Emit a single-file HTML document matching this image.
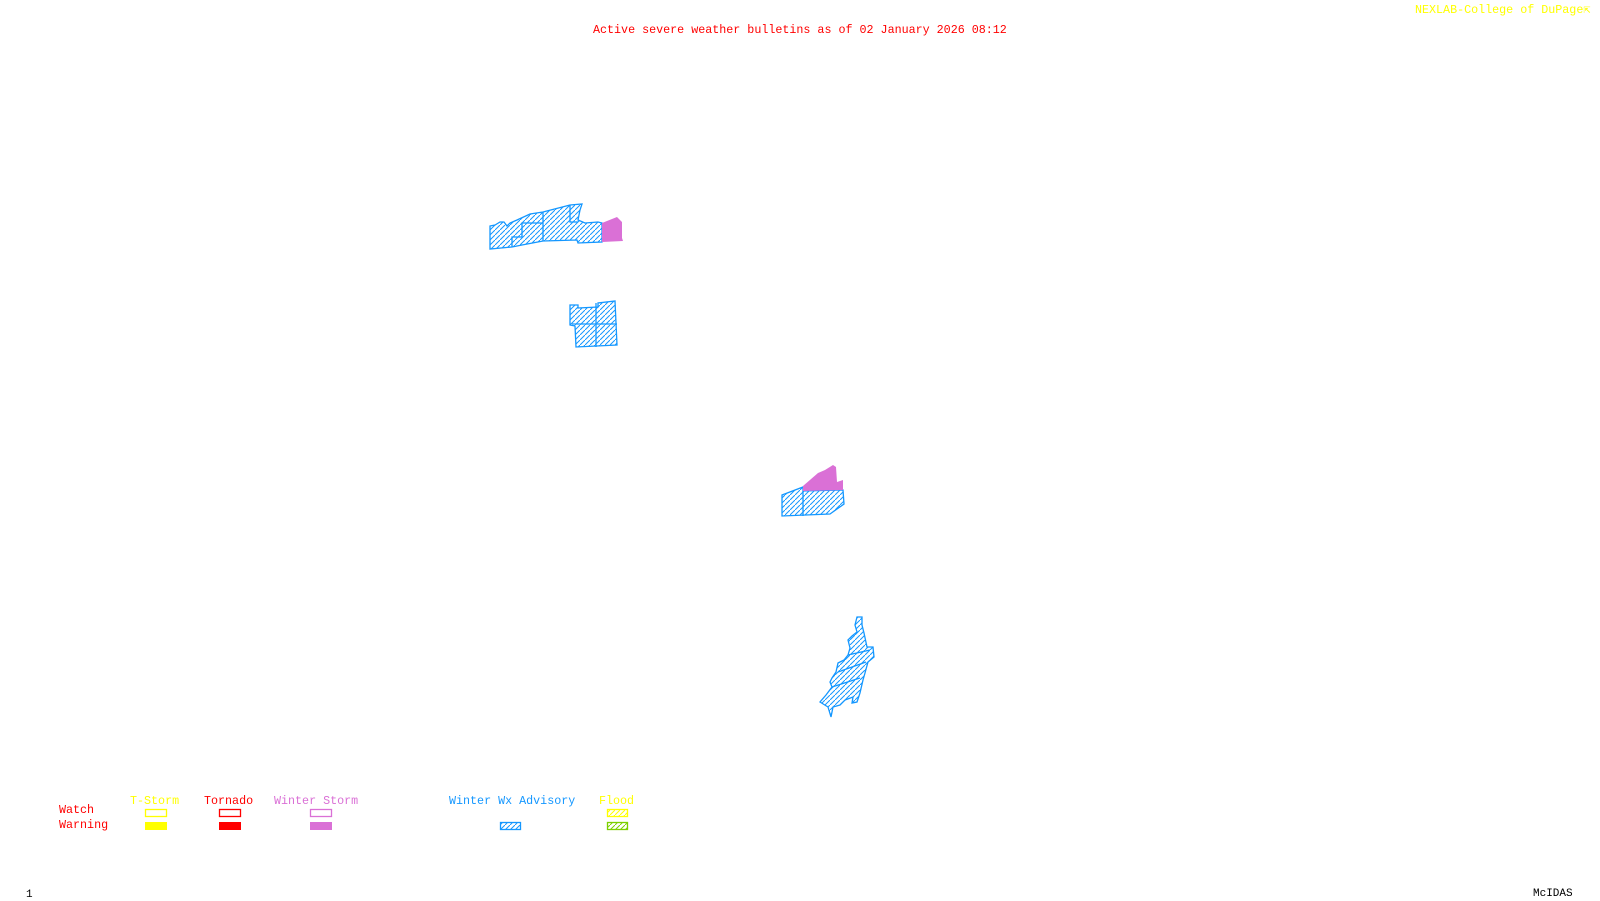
<!DOCTYPE html>
<html><head><meta charset="utf-8"><style>
html,body{margin:0;padding:0;background:#fff;}
body{width:1600px;height:900px;position:relative;overflow:hidden;font-family:"Liberation Mono","DejaVu Sans Mono",monospace;}
.t{position:absolute;white-space:pre;line-height:1;}
svg{position:absolute;left:0;top:0;}
</style></head><body>
<svg width="1600" height="900" viewBox="0 0 1600 900">
<defs>
<pattern id="hb" width="5" height="5" patternUnits="userSpaceOnUse"><path d="M-1,6 L6,-1" stroke="#1497ff" stroke-width="1"/></pattern>
<pattern id="hy" width="5" height="5" patternUnits="userSpaceOnUse"><path d="M-1,6 L6,-1" stroke="#ffff00" stroke-width="1"/></pattern>
<pattern id="hg" width="5" height="5" patternUnits="userSpaceOnUse"><path d="M-1,6 L6,-1" stroke="#7cd000" stroke-width="1"/></pattern>
</defs>
<g fill="url(#hb)" stroke="#1497ff" stroke-width="1.3">
<polygon points="490,226 495,225 500,222 504,222 507,226 510,223 517,220 530,214 543,212 570,205 582,204 580,210 578,220 585,223 598,222 602,223 602,242 578,243 577,240 543,241 522,245 512,247 490,249"/>
<polyline fill="none" points="543,212 543,241"/>
<polyline fill="none" points="570,205 570,222 578,222"/>
<polyline fill="none" points="512,247 512,237 522,237 522,223 543,223"/>
<polygon points="570,305 578,305 578,308 598,307 598,303 615,301 617,345 576,347 575,326 570,325"/>
<polyline fill="none" points="572,324 617,324"/>
<polyline fill="none" points="596,303 596,347"/>
<polygon points="782,495 803,487 803,491 843,490 844,504 830,514 782,516"/>
<polyline fill="none" points="803,491 803,516"/>
<polygon points="857,617 862,617 862,625 864,633 867,647 873,647 874,657 868,662 865,673 863,680 860,693 857,702 852,703 853,697 845,700 840,705 833,707 831,717 828,707 820,702 826,695 832,687 830,682 832,678 836,672 838,663 844,660 848,655 850,648 848,640 852,636 857,632 855,625"/>
<polyline fill="none" points="848,655 870,650"/>
<polyline fill="none" points="838,672 866,662"/>
<polyline fill="none" points="832,687 860,678"/>
</g>
<polygon fill="#da70d6" points="602,223 607,221 617,217 622,222 622,238 623,241 602,242"/>
<polygon fill="#da70d6" points="803,486 818,473 825,470 833,465 836,467 837,482 843,480 843,490 803,491"/>
<rect x="145.5" y="809.5" width="21" height="7" fill="none" stroke="#ffff00" stroke-width="1.3"/>
<rect x="145" y="822" width="22" height="8" fill="#ffff00"/>
<rect x="219.5" y="809.5" width="21" height="7" fill="none" stroke="#ff0000" stroke-width="1.3"/>
<rect x="219" y="822" width="22" height="8" fill="#ff0000"/>
<rect x="310.5" y="809.5" width="21" height="7" fill="none" stroke="#da70d6" stroke-width="1.3"/>
<rect x="310" y="822" width="22" height="8" fill="#da70d6"/>
<rect x="500.5" y="822.5" width="20" height="7" fill="url(#hb)" stroke="#1497ff" stroke-width="1.3"/>
<rect x="607.5" y="809.5" width="20" height="7" fill="url(#hy)" stroke="#ffff00" stroke-width="1.3"/>
<rect x="607.5" y="822.5" width="20" height="7" fill="url(#hg)" stroke="#7cd000" stroke-width="1.3"/>
</svg>
<div class="t" style="left:593px;top:25px;font-size:11.7px;color:#ff0000;">Active severe weather bulletins as of 02 January 2026 08:12</div>
<div class="t" style="left:1415px;top:5px;font-size:11.7px;color:#ffff00;">NEXLAB-College of DuPage&#8689;</div>
<div class="t" style="left:59px;top:805px;font-size:11.7px;color:#ff0000;">Watch</div>
<div class="t" style="left:59px;top:820px;font-size:11.7px;color:#ff0000;">Warning</div>
<div class="t" style="left:130px;top:796px;font-size:11.7px;color:#ffff00;">T-Storm</div>
<div class="t" style="left:204px;top:796px;font-size:11.7px;color:#ff0000;">Tornado</div>
<div class="t" style="left:274px;top:796px;font-size:11.7px;color:#da70d6;">Winter Storm</div>
<div class="t" style="left:449px;top:796px;font-size:11.7px;color:#1497ff;">Winter Wx Advisory</div>
<div class="t" style="left:599px;top:796px;font-size:11.7px;color:#ffff00;">Flood</div>
<div class="t" style="left:26px;top:890px;font-size:11px;color:#000;">1</div>
<div class="t" style="left:1533px;top:889px;font-size:11px;color:#000;">McIDAS</div>
</body></html>
